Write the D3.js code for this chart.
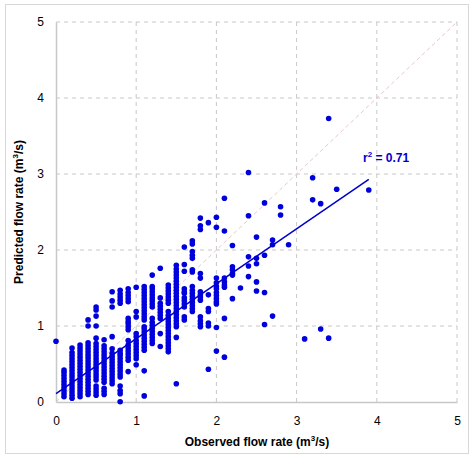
<!DOCTYPE html>
<html><head><meta charset="utf-8">
<script src="https://cdn.jsdelivr.net/npm/d3@7"></script>
<style>body{margin:0;background:#fff}text{font-family:Arial,"Liberation Sans",sans-serif}</style>
</head><body><svg id="c" width="474" height="460"></svg>
<script>
const xTicks=[0,1,2,3,4,5];
const yTicks=[0,1,2,3,4,5];
// observed x per column, predicted y values per column
const colX=[0,0.1,0.2,0.3,0.4,0.5,0.6,0.7,0.8,0.9,1.0,1.1,1.2,1.3,1.4,1.5,1.6,1.7,1.8,1.9,2.0,2.1,2.2,2.3,2.4,2.5,2.6,2.7,2.8,2.9,3.1,3.2,3.3,3.4,3.5,3.9];
const colY=[
[0.80],
[0.07,0.11,0.15,0.19,0.23,0.27,0.31,0.35,0.39,0.42],
[0.05,0.09,0.13,0.17,0.21,0.25,0.29,0.33,0.37,0.41,0.45,0.49,0.53,0.57,0.61,0.65,0.71],
[0.07,0.11,0.15,0.19,0.23,0.27,0.31,0.35,0.39,0.43,0.47,0.51,0.55,0.59,0.63,0.67,0.71,0.75],
[0.10,0.14,0.18,0.22,0.26,0.30,0.34,0.38,0.42,0.46,0.50,0.54,0.58,0.62,0.66,0.70,0.74,0.78,1.08,1.00],
[0.09,0.13,0.17,0.21,0.29,0.33,0.37,0.41,0.45,0.49,0.53,0.57,0.61,0.65,0.69,0.73,0.77,0.84,1.00,1.13,1.21,1.25],
[0.10,0.14,0.18,0.26,0.30,0.34,0.38,0.42,0.46,0.50,0.54,0.58,0.62,0.66,0.70,0.74,0.82],
[0.24,0.28,0.32,0.36,0.40,0.44,0.48,0.52,0.56,0.60,0.64,0.70,0.86,1.25,1.33,1.45],
[0.004,0.11,0.15,0.21,0.33,0.37,0.41,0.45,0.49,0.53,0.57,0.61,0.64,0.68,1.30,1.34,1.38,1.42,1.47],
[0.40,0.55,0.59,0.63,0.67,0.71,0.75,0.81,0.95,0.99,1.03,1.06,1.10,1.32,1.36,1.40,1.44,1.49],
[0.49,0.57,0.61,0.65,0.69,0.73,0.77,0.81,0.86,0.90,1.12,1.19,1.51],
[0.08,0.41,0.68,0.72,0.76,0.80,0.84,0.88,0.92,0.96,0.99,1.08,1.12,1.16,1.20,1.24,1.28,1.32,1.36,1.40,1.44,1.48,1.52],
[0.77,0.81,0.85,0.89,0.93,0.97,1.01,1.05,1.10,1.25,1.29,1.33,1.37,1.41,1.45,1.49,1.52,1.67],
[0.73,0.90,1.10,1.14,1.18,1.22,1.26,1.30,1.37,1.76],
[0.66,0.70,0.74,0.78,0.82,0.86,0.90,0.94,0.98,1.02,1.06,1.10,1.14,1.19,1.30,1.34,1.38,1.42,1.46,1.50,1.54],
[0.24,0.85,0.99,1.03,1.07,1.11,1.15,1.19,1.23,1.27,1.31,1.35,1.39,1.43,1.47,1.51,1.55,1.59,1.63,1.67,1.71,1.75,1.80],
[1.08,1.12,1.25,1.29,1.33,1.37,1.43,1.45,1.49,1.72,1.81,2.04],
[1.19,1.23,1.27,1.31,1.35,1.39,1.43,1.47,1.52,1.71,1.74,1.89,1.93,1.98,2.08,2.12],
[0.99,1.03,1.07,1.12,1.34,1.38,1.41,1.45,1.63,1.69,2.27,2.32,2.42],
[0.43,1.00,1.04,1.19,1.23,1.41,2.36],
[0.67,0.98,1.29,1.32,1.36,1.40,1.44,1.49,1.52,1.57,1.63,2.30,2.43],
[0.59,1.10,1.51,1.54,1.58,1.63,2.25,2.68],
[1.36,1.67,1.69,1.74,1.78,2.06],
[1.50],
[1.65,1.79,1.91,2.45,3.02],
[1.46,1.58,1.82,1.89,2.17],
[1.02,1.44,1.93,2.62],
[1.13,2.07,2.13],
[2.46,2.57],
[2.07],
[0.83],
[2.66,2.95],
[0.96,2.61],
[0.84,3.73],
[2.80],
[2.79]];
const fit=[0.11,0.723];

const svg=d3.select("#c");
svg.append("rect").attr("x",5.5).attr("y",4.5).attr("width",463).attr("height",449).attr("fill","none").attr("stroke","#d8d8d8");
const x=d3.scaleLinear().domain([0,5]).range([56,457]);
const y=d3.scaleLinear().domain([0,5]).range([402,22]);
const g=svg.append("g");
xTicks.slice(1).forEach(t=>g.append("line").attr("x1",x(t)).attr("x2",x(t)).attr("y1",y(0)).attr("y2",y(5)).attr("stroke","#c8c8c8").attr("stroke-dasharray","4,4"));
yTicks.slice(1).forEach(t=>g.append("line").attr("x1",x(0)).attr("x2",x(5)).attr("y1",y(t)).attr("y2",y(t)).attr("stroke","#c8c8c8").attr("stroke-dasharray","4,4"));
g.append("line").attr("x1",x(0)).attr("y1",y(0)).attr("x2",x(5)).attr("y2",y(5)).attr("stroke","#e8c8c8").attr("stroke-dasharray","4,3");
const ax=svg.append("g").attr("transform",`translate(0,${y(0)})`).call(d3.axisBottom(x).tickValues(xTicks).tickFormat(d3.format("d")).tickSize(0).tickPadding(14));
const ay=svg.append("g").attr("transform",`translate(${x(0)},0)`).call(d3.axisLeft(y).tickValues(yTicks).tickFormat(d3.format("d")).tickSize(0).tickPadding(12));
[ax,ay].forEach(a=>{a.select(".domain").attr("stroke","#c8c8c8").attr("stroke-width",1.5);a.selectAll("text").attr("font-size",12).attr("fill","#000").style("font-family","Arial")});
const pts=[];colX.forEach((cx,i)=>colY[i].forEach(v=>pts.push([cx,v])));
svg.append("g").selectAll("circle").data(pts).join("circle").attr("cx",d=>x(d[0])).attr("cy",d=>y(d[1])).attr("r",2.8).attr("fill","#0000dd");
svg.append("line").attr("x1",x(0)).attr("y1",y(fit[0])).attr("x2",x(3.9)).attr("y2",y(fit[0]+fit[1]*3.9)).attr("stroke","#0000cc").attr("stroke-width",1.5);
const t=svg.append("text").attr("x",363).attr("y",162).attr("font-size",12).attr("font-weight","bold").attr("fill","#0000cc");
t.append("tspan").text("r");t.append("tspan").attr("font-size",8).attr("dy",-5).text("2");t.append("tspan").attr("dy",5).text(" = 0.71");
const xl=svg.append("text").attr("x",257).attr("y",446).attr("text-anchor","middle").attr("font-size",12).attr("font-weight","bold");
xl.append("tspan").text("Observed flow rate (m");xl.append("tspan").attr("font-size",8).attr("dy",-5).text("3");xl.append("tspan").attr("dy",5).text("/s)");
const yl=svg.append("text").attr("transform","translate(23,212) rotate(-90)").attr("text-anchor","middle").attr("font-size",12).attr("font-weight","bold");
yl.append("tspan").text("Predicted flow rate (m");yl.append("tspan").attr("font-size",8).attr("dy",-5).text("3");yl.append("tspan").attr("dy",5).text("/s)");
</script></body></html>
